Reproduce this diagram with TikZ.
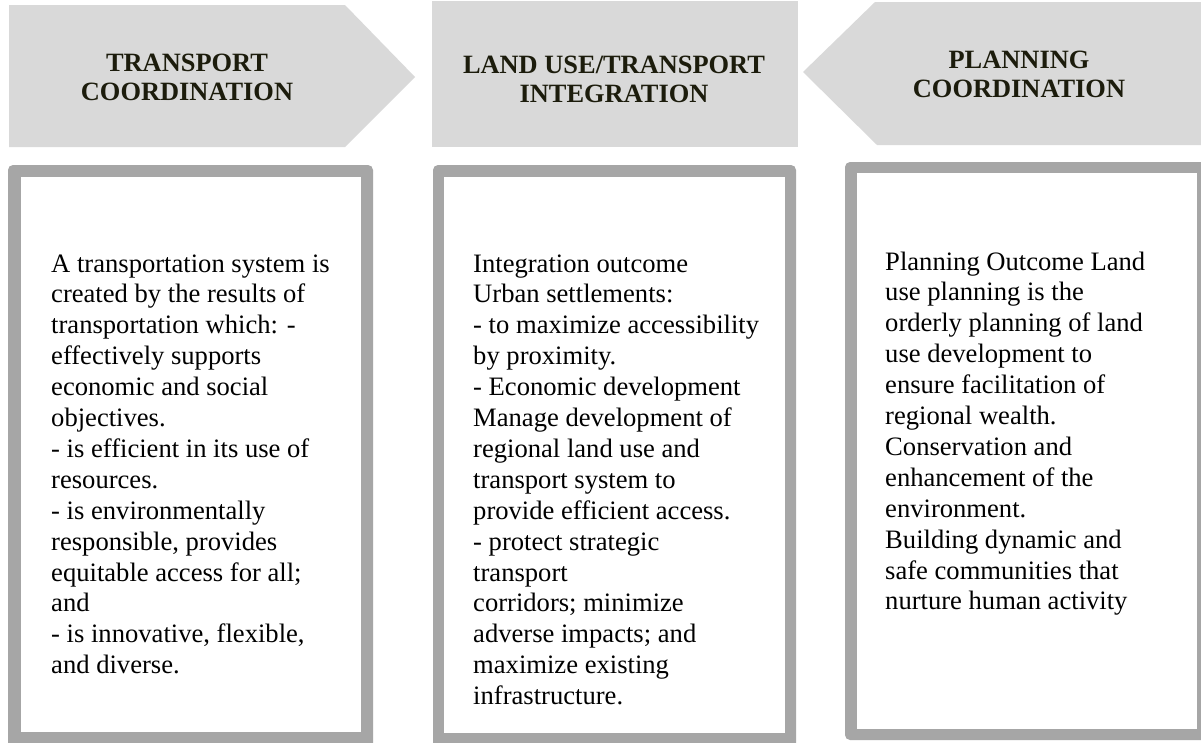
\documentclass[tikz,border=0pt]{standalone}
\usepackage{fontspec}
\setmainfont{Liberation Serif}
\definecolor{banner}{HTML}{D9D9D9}
\definecolor{frame}{HTML}{A6A6A6}
\definecolor{headink}{RGB}{28,28,12}
\begin{document}
\begin{tikzpicture}[x=1pt,y=-1pt,
  heading/.style={anchor=base, inner sep=0pt, text=headink,
    font=\fontsize{26.4}{29.5}\selectfont\bfseries},
  bodytext/.style={anchor=base west, inner sep=0pt,
    font=\fontsize{26.6}{30.9}\selectfont}]
\useasboundingbox (0,0) rectangle (1201,742);
\clip (0,0) rectangle (1201,742);
\fill[white] (0,0) rectangle (1201,742);

% banner shapes along the top
\fill[banner] (9,5) -- (345,5) -- (415,77) -- (345,147) -- (9,147) -- cycle;
\fill[banner] (432,1) rectangle (798,147);
\fill[banner] (803,72) -- (875,2) -- (1215,2) -- (1215,145) -- (877,145) -- cycle;

% framed panels
\fill[frame, rounded corners=5pt] (8,165) rectangle (373,755);
\fill[white] (21,177) rectangle (361,732);
\fill[frame, rounded corners=5pt] (433,165) rectangle (796,755);
\fill[white] (444,177) rectangle (785,733);
\fill[frame, rounded corners=5pt] (845,162) rectangle (1215,740);
\fill[white] (857,173) rectangle (1197,729);

% headings
\node[heading] (h1) at (187,71) {\begin{tabular}[t]{@{}c@{}}TRANSPORT\\COORDINATION\end{tabular}};
\node[heading] (h2) at (614,73) {\begin{tabular}[t]{@{}c@{}}LAND USE/TRANSPORT\\INTEGRATION\end{tabular}};
\node[heading] (h3) at (1019,68) {\begin{tabular}[t]{@{}c@{}}PLANNING\\COORDINATION\end{tabular}};

% panel texts
\node[bodytext] (t1) at (51,272) {\begin{tabular}[t]{@{}l@{}}
A transportation system is\\
created by the results of\\
transportation which: -\\
effectively supports\\
economic and social\\
objectives.\\
- is efficient in its use of\\
resources.\\
- is environmentally\\
responsible, provides\\
equitable access for all;\\
and\\
- is innovative, flexible,\\
and diverse.
\end{tabular}};

\node[bodytext] (t2) at (473,272) {\begin{tabular}[t]{@{}l@{}}
Integration outcome\\
Urban settlements:\\
- to maximize accessibility\\
by proximity.\\
- Economic development\\
Manage development of\\
regional land use and\\
transport system to\\
provide efficient access.\\
- protect strategic\\
transport\\
corridors; minimize\\
adverse impacts; and\\
maximize existing\\
infrastructure.
\end{tabular}};

\node[bodytext] (t3) at (885,270) {\begin{tabular}[t]{@{}l@{}}
Planning Outcome Land\\
use planning is the\\
orderly planning of land\\
use development to\\
ensure facilitation of\\
regional wealth.\\
Conservation and\\
enhancement of the\\
environment.\\
Building dynamic and\\
safe communities that\\
nurture human activity
\end{tabular}};
\end{tikzpicture}
\end{document}
